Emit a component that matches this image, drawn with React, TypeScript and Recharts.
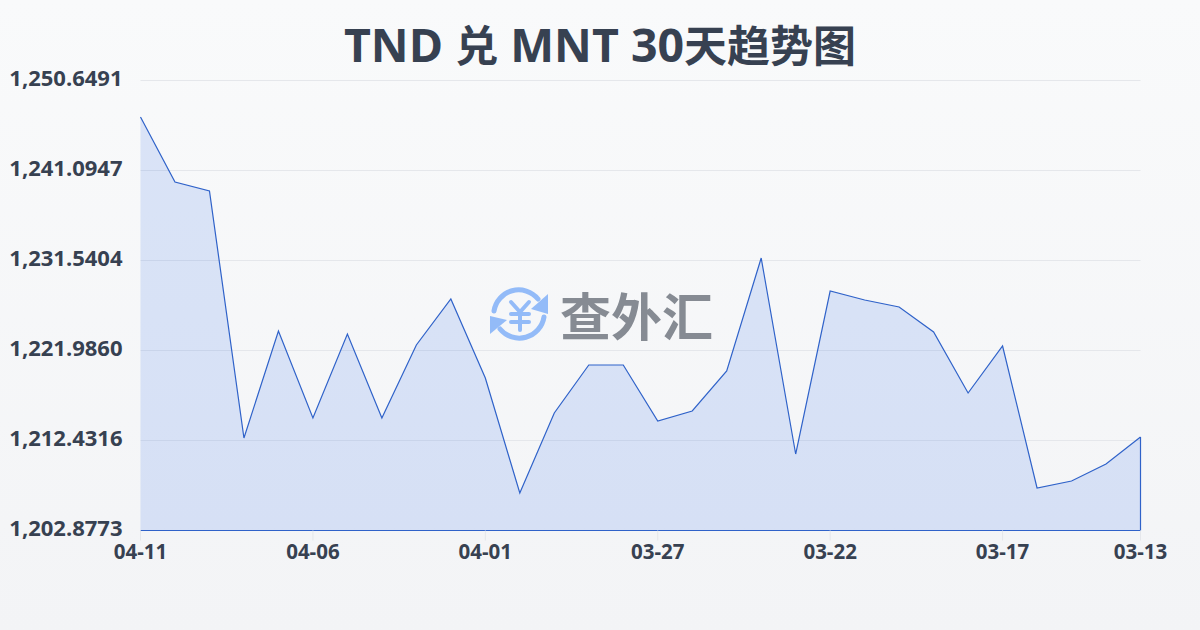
import React from 'react';
import { AreaChart, Area, XAxis, YAxis, CartesianGrid, ReferenceLine } from 'recharts';

const dates = [
  '04-11', '04-10', '04-09', '04-08', '04-07', '04-06', '04-05', '04-04', '04-03', '04-02',
  '04-01', '03-31', '03-30', '03-29', '03-28', '03-27', '03-26', '03-25', '03-24', '03-23',
  '03-22', '03-21', '03-20', '03-19', '03-18', '03-17', '03-16', '03-15', '03-14', '03-13'
];

const rates = [
  1246.774, 1239.874, 1238.918, 1212.697, 1224.056, 1214.82, 1223.738, 1214.82, 1222.57, 1227.453,
  1219.066, 1206.858, 1215.351, 1220.446, 1220.446, 1214.501, 1215.563, 1219.81, 1231.806, 1210.998,
  1228.302, 1227.347, 1226.604, 1223.95, 1217.474, 1222.464, 1207.389, 1208.132, 1209.937, 1212.803
];

const xTicks = ['04-11', '04-06', '04-01', '03-27', '03-22', '03-17', '03-13'];
const yTicks = [1202.8773, 1212.4316, 1221.986, 1231.5404, 1241.0947, 1250.6491];

const Y_MIN = 1202.8773;
const Y_MAX = 1250.6491;

const data = dates.map((date, i) => ({ date, rate: rates[i] }));

const TEXT_COLOR = '#374151';
const LINE_COLOR = '#2f62c9';
const FONT = '"Open Sans", "Noto Sans CJK SC", sans-serif';

const formatRate = (v: number) =>
  v.toLocaleString('en-US', { minimumFractionDigits: 4, maximumFractionDigits: 4 });

const Watermark = () => (
  <div style={{ position: 'absolute', left: 488, top: 284, width: 230, height: 62, pointerEvents: 'none' }}>
    <svg width={64} height={62} style={{ position: 'absolute', left: 0, top: 0 }}>
      <g fill="none" stroke="#93bbf8" strokeWidth={5} strokeLinecap="round">
        <path d="M6 27 A25 25 0 0 1 50 15" />
        <path d="M56 33 A25 25 0 0 1 12 45" />
        <path d="M23 18 L32 28 L41 18 M32 28 V46 M23 30 H41 M23 38 H41" strokeWidth={4} />
      </g>
      <path d="M60 10 L60 30 L43 25 Z" fill="#93bbf8" />
      <path d="M2 50 L2 32 L19 36 Z" fill="#93bbf8" />
    </svg>
    <div
      style={{
        position: 'absolute',
        left: 72,
        top: -5,
        fontFamily: '"Noto Sans CJK SC", sans-serif',
        fontWeight: 700,
        fontSize: 51,
        lineHeight: '70px',
        color: '#868b93',
        whiteSpace: 'nowrap'
      }}
    >
      查外汇
    </div>
  </div>
);

const cjk = { fontSize: 43 };

export default function App() {
  return (
    <div
      style={{
        position: 'absolute',
        left: 0,
        top: 0,
        width: 1200,
        height: 630,
        overflow: 'hidden',
        background: 'linear-gradient(180deg, #f9fafb 0%, #f3f4f6 100%)',
        fontFamily: FONT
      }}
    >
      <div
        style={{
          position: 'absolute',
          left: 0,
          top: 14,
          width: 1200,
          textAlign: 'center',
          fontSize: 46.5,
          fontWeight: 700,
          lineHeight: '60px',
          color: TEXT_COLOR,
          whiteSpace: 'pre'
        }}
      >
        TND <span style={cjk}>兑</span> MNT 30<span style={cjk}>天趋势图</span>
      </div>
      <AreaChart
        width={1200}
        height={630}
        data={data}
        margin={{ top: 80.5, right: 59.5, bottom: 0, left: 0.5 }}
      >
        <CartesianGrid horizontal vertical={false} stroke="#e5e7eb" strokeWidth={1} />
        <XAxis
          dataKey="date"
          ticks={xTicks}
          interval={0}
          height={99.5}
          axisLine={false}
          tickSize={10}
          tickMargin={4}
          tickLine={{ stroke: '#e5e7eb' }}
          tick={{ fill: TEXT_COLOR, fontSize: 20.5, fontWeight: 700, fontFamily: FONT }}
        />
        <YAxis
          width={140}
          domain={[Y_MIN, Y_MAX]}
          ticks={yTicks}
          interval={0}
          axisLine={false}
          tickLine={false}
          tickMargin={12}
          tickFormatter={formatRate}
          tick={{ fill: TEXT_COLOR, fontSize: 22, fontWeight: 700, fontFamily: FONT, dy: -2 }}
        />
        <Area
          type="linear"
          dataKey="rate"
          stroke={LINE_COLOR}
          strokeWidth={1.2}
          fill="#2563eb"
          fillOpacity={0.14}
          isAnimationActive={false}
          dot={false}
          activeDot={false}
        />
        <ReferenceLine
          segment={[{ x: dates[0], y: rates[0] }, { x: dates[0], y: Y_MIN }]}
          stroke={LINE_COLOR}
          strokeWidth={1.2}
        />
        <ReferenceLine
          segment={[{ x: dates[29], y: rates[29] }, { x: dates[29], y: Y_MIN }]}
          stroke={LINE_COLOR}
          strokeWidth={1.2}
        />
        <ReferenceLine y={Y_MIN} stroke={LINE_COLOR} strokeWidth={1.2} />
      </AreaChart>
      <Watermark />
    </div>
  );
}
